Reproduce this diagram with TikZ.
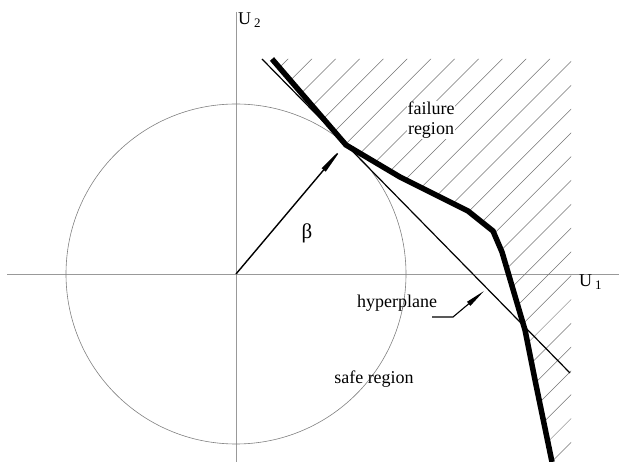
\documentclass[tikz,border=0pt]{standalone}
\usepackage{fontspec}
\setmainfont{Liberation Serif}
\usetikzlibrary{arrows.meta}
\begin{document}
\begin{tikzpicture}[x=1pt,y=-1pt,
  axis/.style={draw=black!40, line width=0.8pt},
  circ/.style={draw=black!50, line width=0.6pt},
  hatch/.style={draw=black!55, line width=0.5pt},
  hyper/.style={draw=black, line width=1.2pt},
  limit/.style={draw=black, line width=5.5pt, line join=miter},
  betaarrow/.style={draw=black, line width=1.4pt, -{Triangle[length=30pt,width=5pt]}},
  leader/.style={draw=black, line width=1.1pt, -{Triangle[length=20pt,width=5pt]}},
  lbl/.style={font=\fontsize{18}{20}\selectfont, inner sep=1pt},
  wlbl/.style={lbl, fill=white}]
\useasboundingbox (0,0) rectangle (619,462);
\coordinate (O) at (236,274);
\coordinate (xa) at (7,274);
\coordinate (xb) at (619,274);
\coordinate (ya) at (236,12);
\coordinate (yb) at (236,462);
% axes and circle
\draw[axis] (xa) -- (xb);
\draw[axis] (ya) -- (yb);
\draw[circ] (O) circle (170pt);
% hatching
\begin{scope}
\clip (272,59) -- (346,145) -- (400,177) -- (468,211) -- (493,231) -- (502,252) -- (525,330) -- (535,380) -- (552,462) -- (571,462) -- (571,59) -- cycle;
\foreach \k in {0,...,30} {
  \draw[hatch] ({347+23.8*\k-500},500) -- ({347+23.8*\k+100},-100);
}
\end{scope}
% labels
\node[wlbl, align=center] (fail) at (431,120) {failure\\region};
\node[lbl] (safe) at (374,379) {safe region};
\node[lbl] (hyp) at (397,303) {hyperplane};
\node[lbl, font=\fontsize{21}{22}\selectfont] (beta) at (307,233) {β};
\node[lbl, anchor=west] (u2) at (237,20) {U\,\raisebox{-0.35ex}{\fontsize{13}{14}\selectfont 2}};
\node[lbl, anchor=west] (u1) at (578,282) {U\,\raisebox{-0.35ex}{\fontsize{13}{14}\selectfont 1}};
% hyperplane
\coordinate (ha) at (262,59);
\coordinate (hb) at (570,373);
\draw[hyper] (ha) -- (hb);
% limit state
\draw[limit] (272,59) -- (346,145) -- (400,177) -- (468,211) -- (493,231) -- (502,252) -- (525,330) -- (535,380) -- (552,462);
% beta arrow
\coordinate (Dt) at (343,147);
\draw[betaarrow] (O) -- (Dt);
% leader
\coordinate (l0) at (432,317);
\coordinate (l1) at (453,317);
\coordinate (l2) at (484,291);
\draw[leader] (l0) -- (l1) -- (l2);
\end{tikzpicture}
\end{document}
